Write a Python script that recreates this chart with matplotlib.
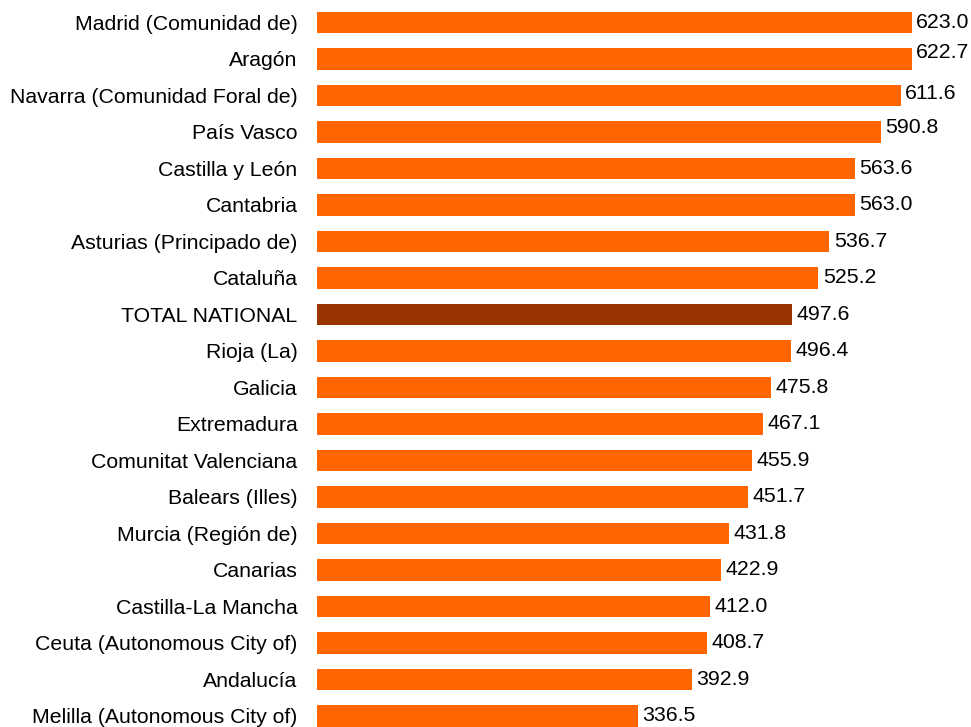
import matplotlib
matplotlib.use("Agg")
import matplotlib.pyplot as plt
import numpy as np

plt.rcParams['font.family'] = ['Liberation Sans', 'DejaVu Sans']

regions = [
    "Madrid (Comunidad de)", "Aragón", "Navarra (Comunidad Foral de)",
    "País Vasco", "Castilla y León", "Cantabria",
    "Asturias (Principado de)", "Cataluña", "TOTAL NATIONAL",
    "Rioja (La)", "Galicia", "Extremadura", "Comunitat Valenciana",
    "Balears (Illes)", "Murcia (Región de)", "Canarias",
    "Castilla-La Mancha", "Ceuta (Autonomous City of)", "Andalucía",
    "Melilla (Autonomous City of)",
]
values = [623.0, 622.7, 611.6, 590.8, 563.6, 563.0, 536.7, 525.2, 497.6,
          496.4, 475.8, 467.1, 455.9, 451.7, 431.8, 422.9, 412.0, 408.7,
          392.9, 336.5]

ORANGE = "#FF6600"
DARK = "#993300"

fig = plt.figure(figsize=(9.71, 7.27), dpi=100)
W, H = 971, 727
left_px, right_px = 317, 971
top_px, bot_px = 4.25, 734.25
ax = fig.add_axes([left_px / W, (H - bot_px) / H,
                   (right_px - left_px) / W, (bot_px - top_px) / H])

y = np.arange(len(regions))
colors = [DARK if r == "TOTAL NATIONAL" else ORANGE for r in regions]
ax.barh(y, values, height=0.58, color=colors)

ax.set_xlim(0, 685)
ax.set_ylim(len(regions) - 0.5, -0.5)

# value labels (a few sit slightly higher, as in the original)
lift = {"Aragón": 0.17, "Navarra (Comunidad Foral de)": 0.05, "País Vasco": 0.13}
for yi, v, r in zip(y, values, regions):
    ax.text(v + 4.5, yi - lift.get(r, 0), f"{v:.1f}", va="center", ha="left",
            fontsize=15.3, color="black")

ax.set_yticks(y)
ax.set_yticklabels(regions, fontsize=15.3)
ax.tick_params(axis="y", length=0, pad=14)
ax.set_xticks([])
for s in ax.spines.values():
    s.set_visible(False)

fig.savefig("out.png", dpi=100)
